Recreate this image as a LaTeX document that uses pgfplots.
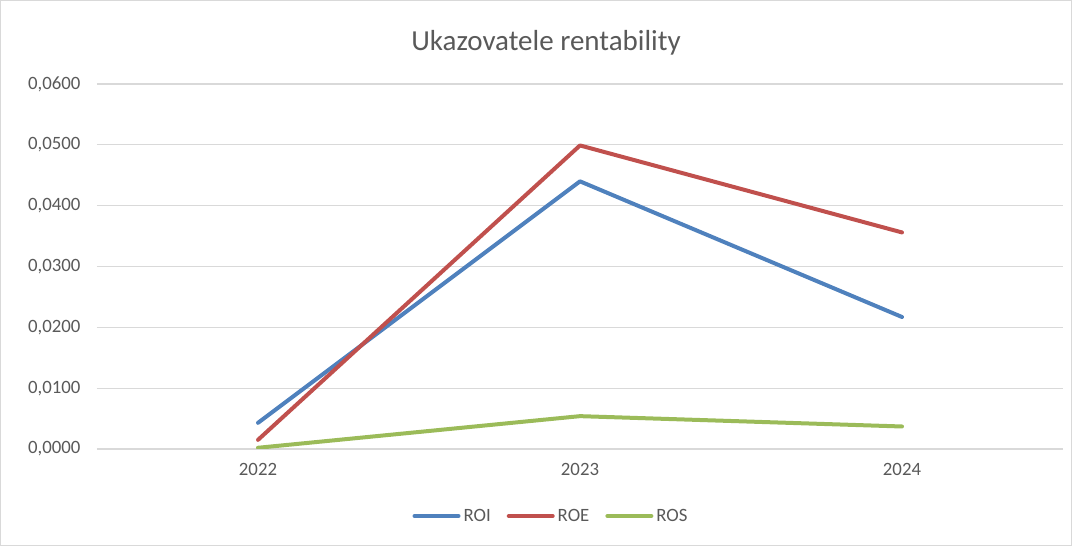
\documentclass[border=0pt]{standalone}
\usepackage{fontspec}
\setmainfont{Carlito}
\usepackage{pgfplots}
\pgfplotsset{compat=1.18}

\definecolor{roiblue}{HTML}{4F81BD}
\definecolor{roered}{HTML}{C0504D}
\definecolor{rosgreen}{HTML}{9BBB59}
\definecolor{gridgray}{HTML}{D9D9D9}
\definecolor{textgray}{HTML}{595959}

\begin{document}
\begin{tikzpicture}[x=1pt,y=1pt]
  \draw[gridgray, line width=1pt] (0.5,0.5) rectangle (1071.5,545.5);
  \node[text=textgray, font=\fontsize{29}{32}\selectfont] at (546,503) {Ukazovatele rentability};
  \begin{axis}[
    at={(97pt,97pt)}, anchor=south west,
    scale only axis,
    width=966pt, height=365pt,
    xmin=-0.5, xmax=2.5,
    ymin=0, ymax=0.06,
    xtick={0,1,2},
    xticklabels={2022,2023,2024},
    ytick={0,0.01,0.02,0.03,0.04,0.05,0.06},
    scaled y ticks=false,
    /pgf/number format/assume math mode=true,
    yticklabel style={/pgf/number format/fixed, /pgf/number format/fixed zerofill,
      /pgf/number format/precision=4, /pgf/number format/use comma, xshift=-13pt},
    ymajorgrids,
    grid style={gridgray, line width=1.2pt},
    axis line style={draw=none},
    major tick length=0pt,
    tick label style={text=textgray, font=\fontsize{18.8}{21}\selectfont},
    xticklabel style={yshift=-11pt},
    legend columns=3,
    legend style={at={(0.47,-0.1836)}, anchor=center, draw=none, fill=none,
      font=\fontsize{18.8}{21}\selectfont, text=textgray,
      /tikz/every odd column/.append style={column sep=1pt},
      /tikz/every even column/.append style={column sep=14pt}},
    legend image code/.code={\draw[#1, line cap=round] (0pt,0pt) -- (44pt,0pt);},
    every axis plot/.append style={line width=4pt, line cap=round, line join=round},
  ]
  \addplot[roiblue] coordinates {(0,0.0043) (1,0.0440) (2,0.0217)};
  \addlegendentry{ROI}
  \addplot[roered] coordinates {(0,0.0015) (1,0.0499) (2,0.0356)};
  \addlegendentry{ROE}
  \addplot[rosgreen] coordinates {(0,0.0002) (1,0.0054) (2,0.0037)};
  \addlegendentry{ROS}
  \end{axis}
\end{tikzpicture}
\end{document}
